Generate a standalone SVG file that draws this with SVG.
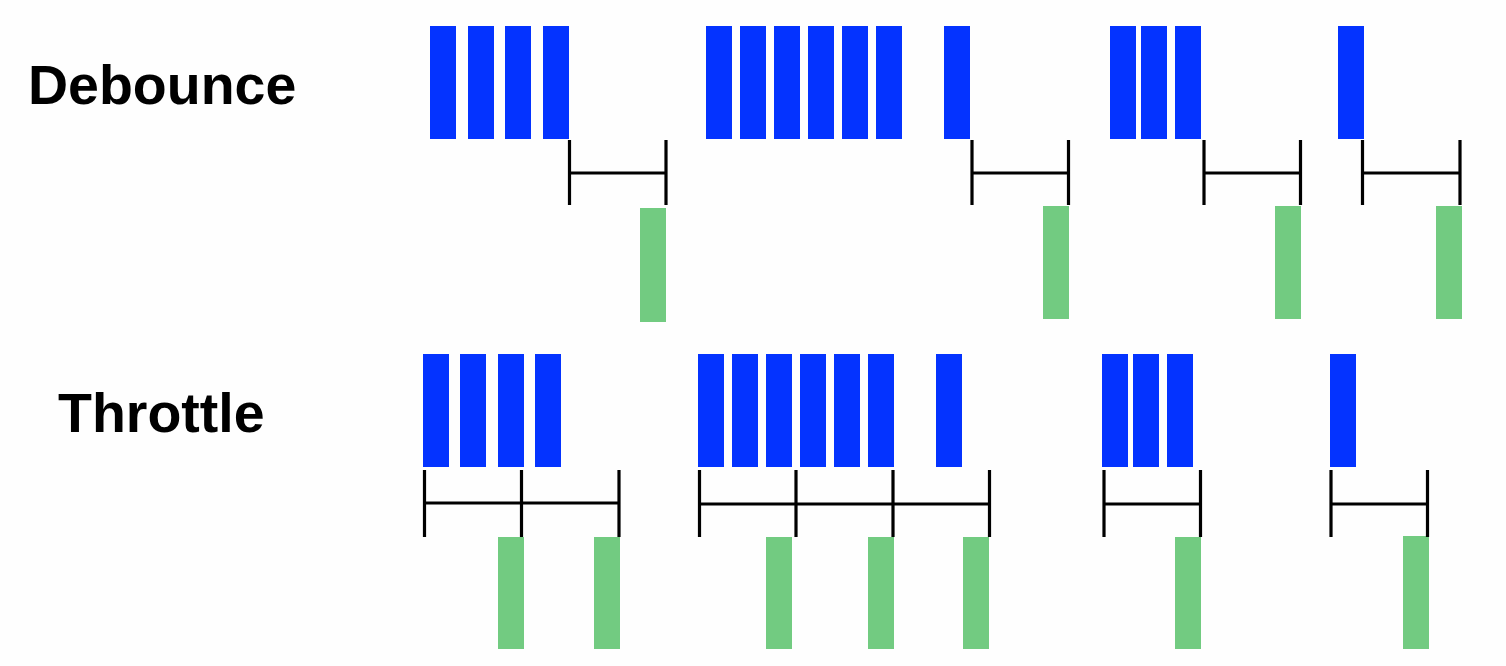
<svg xmlns="http://www.w3.org/2000/svg" width="1506" height="666" viewBox="0 0 1506 666">
<style>
.lbl{font-family:"Liberation Sans",Arial,sans-serif;font-weight:bold;font-size:55.5px;fill:#000}
.ev{fill:#0433FF}
.out{fill:#72CB81}
.br{stroke:#000;stroke-width:3.2;fill:none}
</style>
<rect width="1506" height="666" fill="#FEFEFE"/>
<g id="label-debounce"><text class="lbl" x="28" y="104">Debounce</text></g>
<g id="label-throttle"><text class="lbl" x="58" y="432">Throttle</text></g>
<g id="debounce-events">
<rect class="ev" x="430" y="26" width="26" height="113"/>
<rect class="ev" x="468" y="26" width="26" height="113"/>
<rect class="ev" x="505" y="26" width="26" height="113"/>
<rect class="ev" x="543" y="26" width="26" height="113"/>
<rect class="ev" x="706" y="26" width="26" height="113"/>
<rect class="ev" x="740" y="26" width="26" height="113"/>
<rect class="ev" x="774" y="26" width="26" height="113"/>
<rect class="ev" x="808" y="26" width="26" height="113"/>
<rect class="ev" x="842" y="26" width="26" height="113"/>
<rect class="ev" x="876" y="26" width="26" height="113"/>
<rect class="ev" x="944" y="26" width="26" height="113"/>
<rect class="ev" x="1110" y="26" width="26" height="113"/>
<rect class="ev" x="1141" y="26" width="26" height="113"/>
<rect class="ev" x="1175" y="26" width="26" height="113"/>
<rect class="ev" x="1338" y="26" width="26" height="113"/>
</g>
<g id="debounce-outputs">
<rect class="out" x="640" y="208" width="26" height="114"/>
<rect class="out" x="1043" y="206" width="26" height="113"/>
<rect class="out" x="1275" y="206" width="26" height="113"/>
<rect class="out" x="1436" y="206" width="26" height="113"/>
</g>
<g id="throttle-events">
<rect class="ev" x="423" y="354" width="26" height="113"/>
<rect class="ev" x="460" y="354" width="26" height="113"/>
<rect class="ev" x="498" y="354" width="26" height="113"/>
<rect class="ev" x="535" y="354" width="26" height="113"/>
<rect class="ev" x="698" y="354" width="26" height="113"/>
<rect class="ev" x="732" y="354" width="26" height="113"/>
<rect class="ev" x="766" y="354" width="26" height="113"/>
<rect class="ev" x="800" y="354" width="26" height="113"/>
<rect class="ev" x="834" y="354" width="26" height="113"/>
<rect class="ev" x="868" y="354" width="26" height="113"/>
<rect class="ev" x="936" y="354" width="26" height="113"/>
<rect class="ev" x="1102" y="354" width="26" height="113"/>
<rect class="ev" x="1133" y="354" width="26" height="113"/>
<rect class="ev" x="1167" y="354" width="26" height="113"/>
<rect class="ev" x="1330" y="354" width="26" height="113"/>
</g>
<g id="throttle-outputs">
<rect class="out" x="498" y="537" width="26" height="112"/>
<rect class="out" x="594" y="537" width="26" height="112"/>
<rect class="out" x="766" y="537" width="26" height="112"/>
<rect class="out" x="868" y="537" width="26" height="112"/>
<rect class="out" x="963" y="537" width="26" height="112"/>
<rect class="out" x="1175" y="537" width="26" height="112"/>
<rect class="out" x="1403" y="536" width="26" height="113"/>
</g>
<g id="connectors">
<path class="br" d="M569.5 140V205M666 140V205M569.5 173H666"/>
<path class="br" d="M972 140V205M1068.5 140V205M972 173H1068.5"/>
<path class="br" d="M1204 140V205M1300.5 140V205M1204 173H1300.5"/>
<path class="br" d="M1362.5 140V205M1460 140V205M1362.5 173H1460"/>
<path class="br" d="M424.5 470V537M521.5 470V537M619 470V537M424.5 503H619"/>
<path class="br" d="M699.5 470V537M796 470V537M893 470V537M989.5 470V537M699.5 504H989.5"/>
<path class="br" d="M1104 470V537M1200.5 470V537M1104 504H1200.5"/>
<path class="br" d="M1331 470V537M1427.5 470V537M1331 504H1427.5"/>
</g>
</svg>
